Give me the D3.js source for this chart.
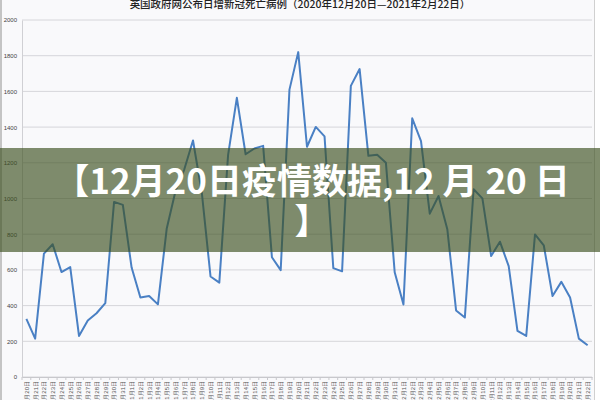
<!DOCTYPE html>
<html>
<head>
<meta charset="utf-8">
<script src="https://cdn.jsdelivr.net/npm/d3@7"></script>
<style>
  body { margin: 0; background: #fff; }
  svg { display: block; font-family: "Noto Sans CJK SC", "Noto Sans", sans-serif; }
</style>
</head>
<body>
<div id="chart"></div>
<script>
// Chart data
const titleText = '英国政府网公布日增新冠死亡病例（2020年12月20日—2021年2月22日）';
const decDays = [20, 21, 22, 23, 24, 25, 26, 27, 28, 29, 30, 31];
const janDays = d3.range(1, 32);
const febDays = d3.range(1, 23);
const decDeaths = [326, 215, 691, 744, 588, 616, 230, 316, 357, 414, 981, 964];
const janDeaths = [613, 445, 454, 407, 830, 1041, 1162, 1325, 1035, 563, 529, 1243, 1564, 1248, 1280, 1295,
                   671, 599, 1610, 1820, 1290, 1401, 1348, 610, 592, 1631, 1725, 1239, 1245, 1200, 587];
const febDeaths = [406, 1449, 1322, 915, 1014, 828, 373, 333, 1052, 1001, 678, 758, 621, 258, 230,
                   799, 738, 454, 533, 445, 215, 178];
const yTicks = [0, 200, 400, 600, 800, 1000, 1200, 1400, 1600, 1800, 2000];
const bannerLines = ['【12月20日疫情数据,12 月 20 日', '】'];

const labels = [].concat(
    decDays.map(d => '12月' + d + '日'),
    janDays.map(d => '1月' + d + '日'),
    febDays.map(d => '2月' + d + '日')
);
const values = [].concat(decDeaths, janDeaths, febDeaths);
const data = labels.map((l, i) => ({label: l, value: values[i]}));

const width = 600;
const height = 400;
const svg = d3.select('#chart').append('svg')
    .attr('width', width)
    .attr('height', height);

// screenshot frame
svg.append('rect').attr('x', 0).attr('y', 0).attr('width', 595).attr('height', height)
    .attr('fill', '#f9f9fb');
svg.append('line').attr('x1', 1).attr('x2', 1).attr('y1', 0).attr('y2', height)
    .attr('stroke', '#c4c4c4').attr('stroke-width', 2);
svg.append('line').attr('x1', 594.5).attr('x2', 594.5).attr('y1', 0).attr('y2', height)
    .attr('stroke', '#d0d0d0').attr('stroke-width', 1);

const x = d3.scalePoint().domain(labels).range([22, 592]).padding(0.5);
const y = d3.scaleLinear().domain([0, 2000]).range([377, 20]);

// gridlines
svg.append('g').selectAll('line')
    .data(yTicks)
    .enter()
    .append('line')
    .attr('x1', 22).attr('x2', 592)
    .attr('y1', d => y(d)).attr('y2', d => y(d))
    .attr('stroke', '#d6d6da').attr('stroke-width', 1);

// y axis
const yAxis = svg.append('g')
    .attr('transform', 'translate(22,0)')
    .call(d3.axisLeft(y).tickValues(yTicks).tickFormat(d3.format('d')).tickSize(0).tickPadding(5));
yAxis.select('.domain').attr('stroke', '#d0d0d4');
yAxis.selectAll('text').attr('font-size', 6).attr('fill', '#444');

// x axis
const xAxis = svg.append('g')
    .attr('transform', 'translate(0,377)')
    .call(d3.axisBottom(x).tickSize(0).tickPadding(0));
xAxis.select('.domain').attr('stroke', '#c8c8cc');
xAxis.selectAll('text')
    .attr('font-size', 6)
    .attr('fill', '#555')
    .attr('text-anchor', 'end')
    .attr('transform', 'rotate(-90)')
    .attr('x', -4)
    .attr('y', 0)
    .attr('dy', '0.32em');
// small tick marks between categories
svg.append('g').selectAll('line')
    .data(labels.concat(['end']))
    .enter()
    .append('line')
    .attr('x1', (d, i) => 22 + i * x.step())
    .attr('x2', (d, i) => 22 + i * x.step())
    .attr('y1', 377).attr('y2', 380)
    .attr('stroke', '#c8c8cc');

// the line
const line = d3.line().x(d => x(d.label)).y(d => y(d.value));
svg.append('path')
    .datum(data)
    .attr('fill', 'none')
    .attr('stroke', '#4a80c4')
    .attr('stroke-width', 2)
    .attr('stroke-linejoin', 'round')
    .attr('d', line);

// title
svg.append('text')
    .attr('x', 300).attr('y', 8)
    .attr('text-anchor', 'middle')
    .attr('font-size', 10.5)
    .attr('font-weight', 500)
    .attr('fill', '#222')
    .text(titleText);

// overlay banner
svg.append('rect')
    .attr('x', 0).attr('y', 148)
    .attr('width', width).attr('height', 104)
    .attr('fill', '#3c501e')
    .attr('opacity', 0.65);

svg.append('g').selectAll('text')
    .data(bannerLines)
    .enter()
    .append('text')
    .attr('x', 312)
    .attr('y', (d, i) => 194 + i * 40)
    .attr('text-anchor', 'middle')
    .attr('font-size', 35)
    .attr('font-weight', 700)
    .attr('fill', '#fff')
    .text(d => d);
</script>
</body>
</html>
